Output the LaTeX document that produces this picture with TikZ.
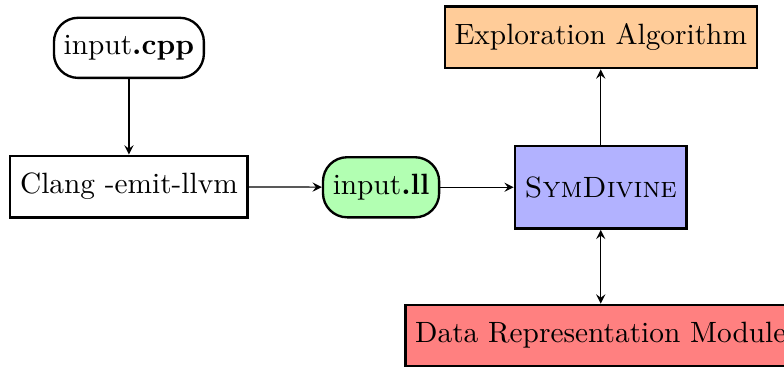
\documentclass[tikz,border=0pt]{standalone}
\usetikzlibrary{positioning,arrows.meta}

\begin{document}
\begin{tikzpicture}[
    every node/.style={font=\normalsize},
    filebox/.style={rectangle, rounded corners=0.29cm, draw, thick, minimum height=0.72cm},
    toolbox/.style={rectangle, draw, thick, minimum height=0.74cm},
    arrow/.style={-stealth},
    biarrow/.style={stealth-stealth}
]

\useasboundingbox (0,0) rectangle (9.39,-4.39);

% Input source
\node[filebox] (cpp) at (1.544,-0.573) {input\textbf{.cpp}};

% Compiler
\node[toolbox] (clang) at (1.544,-2.235) {Clang -emit-llvm};

% LLVM bitcode
\node[filebox, fill=green!30] (ll) at (4.564,-2.243) {input\textbf{.ll}};

% Core tool
\node[toolbox, fill=blue!30, minimum height=0.99cm] (symdivine) at (7.195,-2.243) {\textsc{SymDivine}};

% Modules
\node[toolbox, fill=orange!40] (explore) at (7.195,-0.447) {Exploration Algorithm};
\node[toolbox, fill=red!50] (datarep) at (7.195,-4.02) {Data Representation Module};

% Arrows
\draw[arrow] (cpp) -- (clang);
\draw[arrow] (clang) -- (ll);
\draw[arrow] (ll) -- (symdivine);
\draw[arrow] (symdivine) -- (explore);
\draw[biarrow] (symdivine) -- (datarep);

\end{tikzpicture}
\end{document}
